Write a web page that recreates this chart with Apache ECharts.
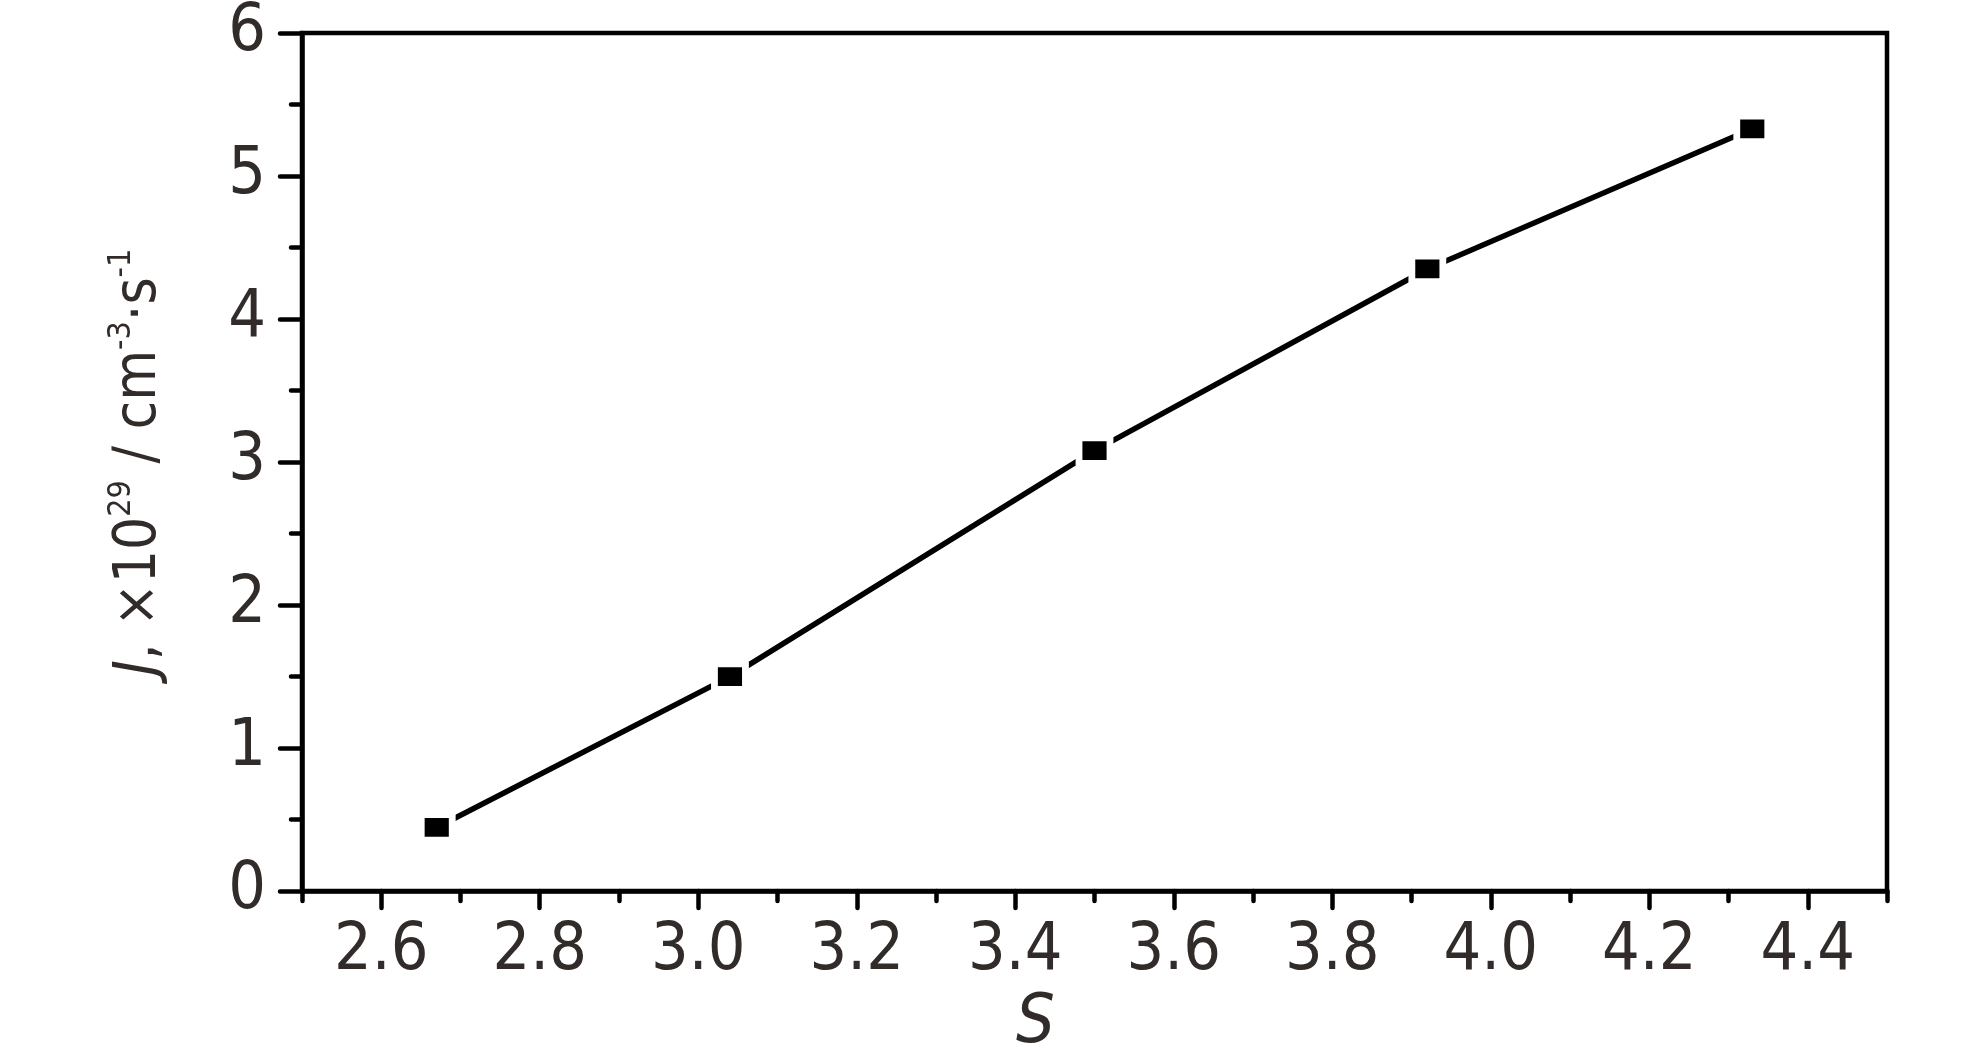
<!DOCTYPE html>
<html>
<head>
<meta charset="utf-8">
<script src="https://cdn.jsdelivr.net/npm/echarts@6/dist/echarts.min.js"></script>
<style>html,body{margin:0;padding:0;background:#fff;}#c{width:1984px;height:1063px;}</style>
</head>
<body>
<div id="c"></div>
<script>
const sValues = [2.67, 3.04, 3.50, 3.92, 4.33];
const jValues = [0.445, 1.50, 3.08, 4.35, 5.33];
const xMajorTicks = [2.6, 2.8, 3.0, 3.2, 3.4, 3.6, 3.8, 4.0, 4.2, 4.4];
const xMinorTicks = [2.5, 2.7, 2.9, 3.1, 3.3, 3.5, 3.7, 3.9, 4.1, 4.3, 4.5];

const FONT = '"Liberation Sans Narrow", "Arial Narrow", "DejaVu Sans Condensed", sans-serif';
const TXT = '#312b29';

const chart = echarts.init(document.getElementById('c'));
chart.setOption({
  animation: false,
  backgroundColor: '#fff',
  grid: { left: 302, right: 97, top: 32, bottom: 166, show: true, borderColor: '#000', borderWidth: 4.5, backgroundColor: 'transparent' },
  xAxis: [{
    type: 'value', min: 2.5, max: 4.5,
    name: 'S', nameLocation: 'middle', nameGap: 88,
    nameTextStyle: { fontFamily: FONT, fontSize: 68, fontStyle: 'italic', color: TXT, padding: [0, 118, 0, 0] },
    axisLine: { show: true, lineStyle: { color: '#000', width: 4.5 } },
    axisTick: { show: true, customValues: xMajorTicks, length: 17, lineStyle: { color: '#000', width: 4.5, cap: 'round' } },
    axisLabel: { show: true, customValues: xMajorTicks, margin: 28, fontFamily: FONT, fontSize: 66, color: TXT, formatter: v => v.toFixed(1) },
    splitLine: { show: false }
  }, {
    type: 'value', min: 2.5, max: 4.5, position: 'bottom',
    axisLine: { show: false },
    axisTick: { show: true, customValues: xMinorTicks, length: 10, lineStyle: { color: '#000', width: 4.5, cap: 'round' } },
    axisLabel: { show: false },
    splitLine: { show: false }
  }],
  yAxis: [{
    type: 'value', min: 0, max: 6, interval: 1,
    name: '{i|J}, ×10{sup|29} / cm{sup|-3}·s{sup|-1}',
    nameLocation: 'middle', nameGap: 128, nameRotate: 90,
    nameTextStyle: {
      fontFamily: FONT, fontSize: 58, color: TXT, lineHeight: 68,
      rich: {
        i: { fontFamily: FONT, fontSize: 58, fontStyle: 'italic', color: TXT, lineHeight: 68 },
        sup: { fontFamily: FONT, fontSize: 32, color: TXT, verticalAlign: 'top', lineHeight: 38 }
      }
    },
    axisLine: { show: true, lineStyle: { color: '#000', width: 4.5 } },
    axisTick: { show: true, length: 22, lineStyle: { color: '#000', width: 4.5, cap: 'round' } },
    minorTick: { show: true, splitNumber: 2, length: 11, lineStyle: { color: '#000', width: 4.5, cap: 'round' } },
    axisLabel: { margin: 36, fontFamily: FONT, fontSize: 66, color: TXT },
    splitLine: { show: false }
  }],
  series: [{
    type: 'line',
    data: sValues.map((s, i) => [s, jValues[i]]),
    xAxisIndex: 0, yAxisIndex: 0,
    symbol: 'rect', symbolSize: [31, 24],
    showSymbol: true,
    lineStyle: { color: '#000', width: 5.5, cap: 'round' },
    itemStyle: { color: '#000', borderColor: '#fff', borderWidth: 6 },
    z: 3
  }]
});
</script>
</body>
</html>
